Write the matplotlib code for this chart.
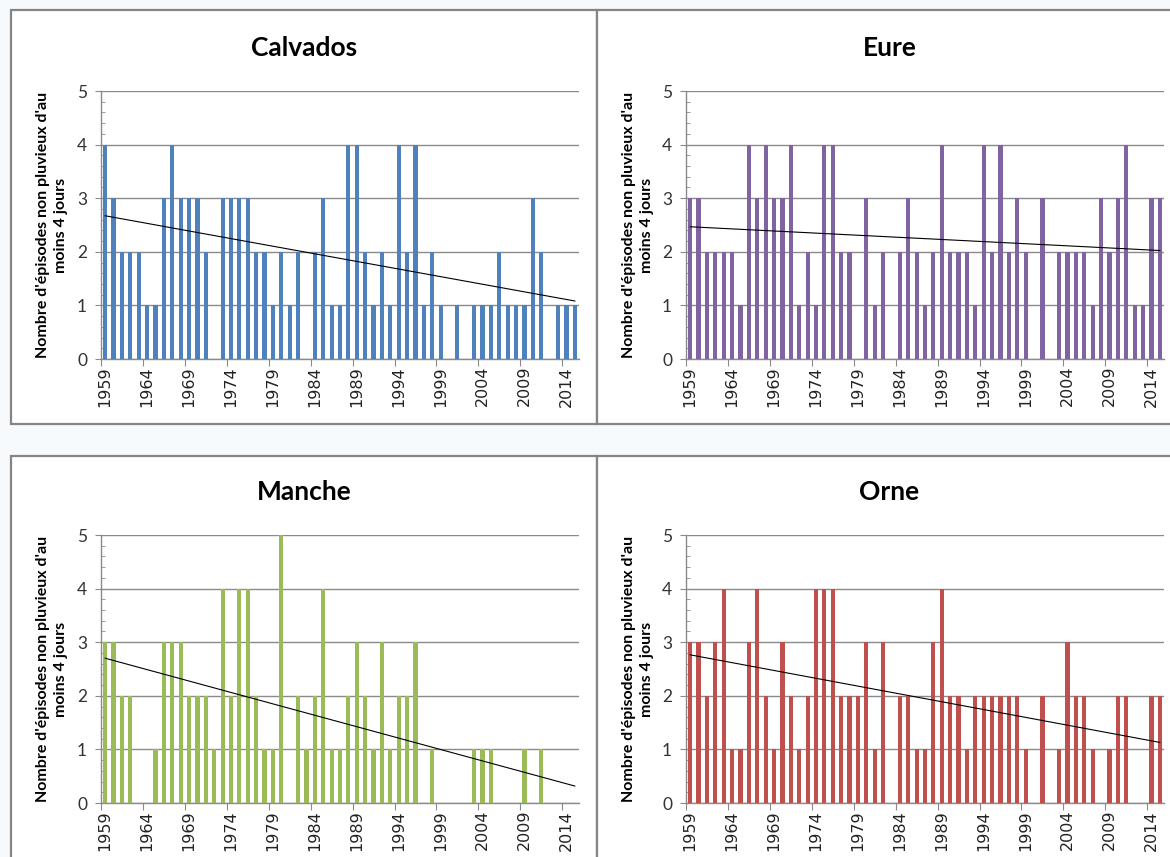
import numpy as np
import matplotlib
matplotlib.use("Agg")
import matplotlib.pyplot as plt
from matplotlib.patches import Rectangle

# Nombre d'episodes non pluvieux d'au moins 4 jours, par departement
years = list(range(1959, 2016))

calvados = [4, 3, 2, 2, 2, 1, 1, 3, 4, 3, 3, 3, 2, 0, 3, 3, 3, 3, 2, 2, 1, 2, 1, 2, 0, 2, 3, 1, 1,
            4, 4, 2, 1, 2, 1, 4, 2, 4, 1, 2, 1, 0, 1, 0, 1, 1, 1, 2, 1, 1, 1, 3, 2, 0, 1, 1, 1]
eure = [3, 3, 2, 2, 2, 2, 1, 4, 3, 4, 3, 3, 4, 1, 2, 1, 4, 4, 2, 2, 0, 3, 1, 2, 0, 2, 3, 2, 1,
        2, 4, 2, 2, 2, 1, 4, 2, 4, 2, 3, 2, 0, 3, 0, 2, 2, 2, 2, 1, 3, 2, 3, 4, 1, 1, 3, 3]
manche = [3, 3, 2, 2, 0, 0, 1, 3, 3, 3, 2, 2, 2, 1, 4, 2, 4, 4, 2, 1, 1, 5, 0, 2, 1, 2, 4, 1, 1,
          2, 3, 2, 1, 3, 1, 2, 2, 3, 0, 1, 0, 0, 0, 0, 1, 1, 1, 0, 0, 0, 1, 0, 1, 0, 0, 0, 0]
orne = [3, 3, 2, 3, 4, 1, 1, 3, 4, 2, 1, 3, 2, 1, 2, 4, 4, 4, 2, 2, 2, 3, 1, 3, 0, 2, 2, 1, 1,
        3, 4, 2, 2, 1, 2, 2, 2, 2, 2, 2, 1, 0, 2, 0, 1, 3, 2, 2, 1, 0, 1, 2, 2, 0, 0, 2, 2]

titles = ["Calvados", "Eure", "Manche", "Orne"]
colors = ["#4F81BD", "#8064A2", "#9BBB59", "#C0504D"]
ylabel = "Nombre d'épisodes non pluvieux d'au\nmoins 4 jours"

W, H = 1170, 857
GRID = "#8a8a8a"


def px(x0, y0, x1, y1):
    """pixel box (top-left origin) -> figure fraction rect"""
    return [x0 / W, 1 - y1 / H, (x1 - x0) / W, (y1 - y0) / H]


def draw_panel(fig, frame, plot, title_y, title, values, color):
    fr = px(*frame)
    fig.patches.append(Rectangle((fr[0], fr[1]), fr[2], fr[3], transform=fig.transFigure,
                                 facecolor="white", edgecolor="#858585", linewidth=1.6,
                                 zorder=-5))
    cx = (frame[0] + frame[2]) / 2
    fig.text(cx / W, 1 - title_y / H, title, ha="center", va="center",
             family="Lato", weight="bold", fontsize=19)
    ax = fig.add_axes(px(*plot), zorder=2)
    ax.set_facecolor("none")
    x = np.arange(len(years))
    ax.bar(x, values, width=0.5, color=color, zorder=3)
    coef = np.polyfit(x, values, 1)
    ax.plot(x, np.polyval(coef, x), color="black", linewidth=0.8, zorder=4)
    ax.set_xlim(-0.5, len(years) - 0.5)
    ax.set_ylim(0, 5)
    ax.set_yticks(range(6))
    ax.set_yticks(np.arange(0, 5.01, 0.2), minor=True)
    ax.yaxis.grid(True, color=GRID, linewidth=1.0, zorder=1)
    ax.tick_params(axis="y", which="major", length=4, color=GRID, labelsize=12.5,
                   labelcolor="#333333", pad=6)
    ax.tick_params(axis="y", which="minor", direction="in", length=3, color=GRID)
    for lab in ax.get_yticklabels():
        lab.set_family("Lato")
    # category axis: ticks between categories, labels centered every 5 years
    ax.set_xticks(np.arange(-0.5, len(years), 5))
    ax.set_xticklabels([])
    ax.set_xticks(x[::5], minor=True)
    ax.set_xticklabels([str(y) for y in years[::5]], minor=True, rotation=90,
                       fontsize=11.5, family="DejaVu Sans", color="#222222")
    ax.tick_params(axis="x", which="major", length=5, color=GRID)
    ax.tick_params(axis="x", which="minor", length=0, pad=5)
    for side in ["top", "right"]:
        ax.spines[side].set_visible(False)
    for side in ["left", "bottom"]:
        ax.spines[side].set_color(GRID)
        ax.spines[side].set_linewidth(1.0)
    ylx = frame[0] + 41
    fig.text(ylx / W, 1 - ((plot[1] + plot[3]) / 2) / H, ylabel, rotation=90,
             ha="center", va="center", multialignment="center",
             family="Lato", weight="bold", fontsize=11.5, linespacing=1.35)
    return ax


fig = plt.figure(figsize=(W / 100, H / 100), dpi=100, facecolor="#f7fafd")

frames = [(11, 10, 597, 424), (597, 10, 1182, 424),
          (11, 456, 597, 870), (597, 456, 1182, 870)]
plots = [(101, 91, 579, 359), (686, 91, 1164, 359),
         (101, 535, 579, 803), (686, 535, 1164, 803)]
title_ys = [48, 48, 492, 492]
series = [calvados, eure, manche, orne]

for frame, plot, ty, title, vals, col in zip(frames, plots, title_ys, titles, series, colors):
    draw_panel(fig, frame, plot, ty, title, vals, col)

fig.savefig("out.png", dpi=100, facecolor=fig.get_facecolor())
